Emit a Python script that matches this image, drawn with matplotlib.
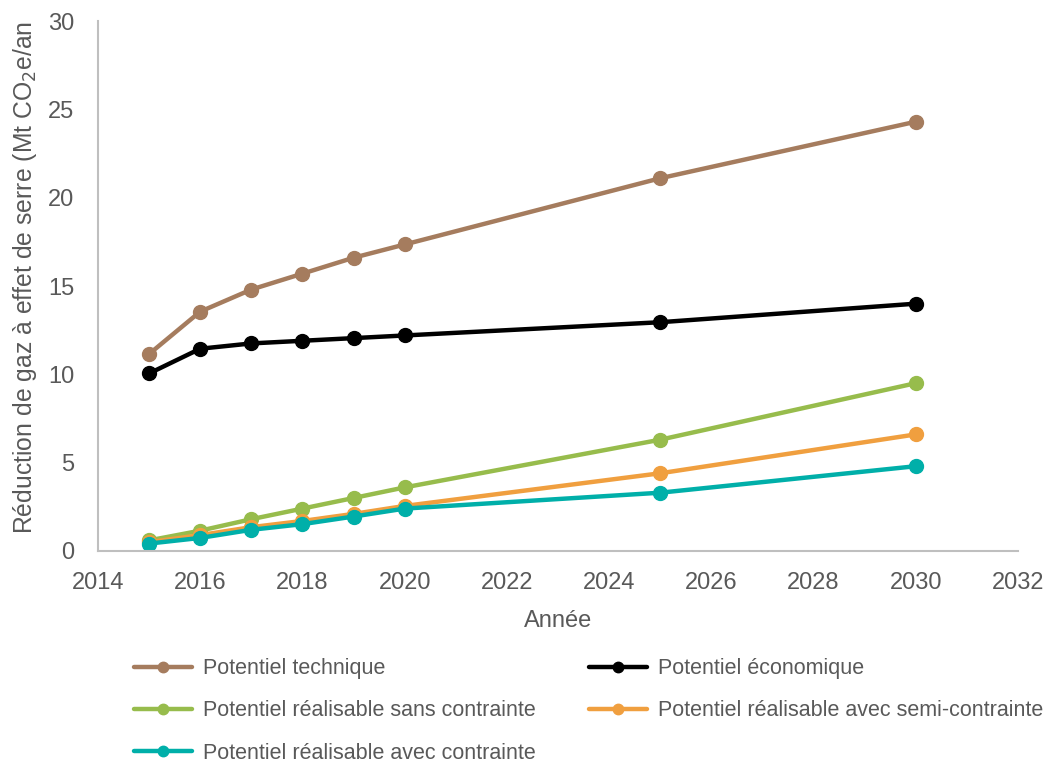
import matplotlib
matplotlib.use("Agg")
import matplotlib.pyplot as plt

plt.rcParams['font.family'] = ['Liberation Sans', 'DejaVu Sans']

years = [2015, 2016, 2017, 2018, 2019, 2020, 2025, 2030]
technique = [11.15, 13.55, 14.8, 15.7, 16.6, 17.35, 21.1, 24.3]
economique = [10.05, 11.45, 11.75, 11.9, 12.05, 12.2, 12.95, 14.0]
sans_contrainte = [0.6, 1.15, 1.8, 2.4, 3.0, 3.6, 6.3, 9.5]
semi_contrainte = [0.5, 0.9, 1.35, 1.7, 2.1, 2.55, 4.4, 6.6]
avec_contrainte = [0.42, 0.74, 1.2, 1.52, 1.95, 2.4, 3.3, 4.8]

labels = ["Potentiel technique", "Potentiel économique",
          "Potentiel réalisable sans contrainte",
          "Potentiel réalisable avec semi-contrainte",
          "Potentiel réalisable avec contrainte"]
colors = ["#A57C5E", "#000000", "#97BC4C", "#F09F3F", "#00AFA9"]
series = [technique, economique, sans_contrainte, semi_contrainte, avec_contrainte]

xticks = list(range(2014, 2033, 2))
yticks = [0, 5, 10, 15, 20, 25, 30]

fig = plt.figure(figsize=(10.49, 7.64), dpi=100)
ax = fig.add_axes([0.0934, 0.2788, 0.8771, 0.6937])

handles = []
for vals, col, lab in zip(series, colors, labels):
    h, = ax.plot(years, vals, color=col, lw=3.2, marker='o', ms=10,
                 label=lab, solid_joinstyle='round', solid_capstyle='round')
    handles.append(h)

ax.set_xlim(2014, 2032)
ax.set_ylim(0, 30)
ax.set_xticks(xticks)
ax.set_yticks(yticks)
ax.tick_params(length=0, labelsize=17, labelcolor='#595959')
ax.tick_params(axis='x', pad=15)
ax.tick_params(axis='y', pad=17)
for s in ['top', 'right']:
    ax.spines[s].set_visible(False)
for s in ['left', 'bottom']:
    ax.spines[s].set_color('#BFBFBF')
    ax.spines[s].set_linewidth(1.5)

ax.set_xlabel("Année", fontsize=17, color='#595959')
ax.xaxis.set_label_coords(0.5, -0.112)
ax.set_ylabel("Réduction de gaz à effet de serre (Mt CO$_2$e/an", fontsize=17.8,
              color='#595959')
ax.yaxis.set_label_coords(-0.064, 0.516)

# legend order: row-major with 2 columns
order = [0, 2, 4, 1, 3]
leg = fig.legend(handles=[handles[i] for i in order], loc='upper left',
                 bbox_to_anchor=(0.109, 0.164),
                 ncol=2, frameon=False, fontsize=15.5, handlelength=2.7,
                 labelspacing=0.99, columnspacing=2.5, handletextpad=0.5,
                 labelcolor='#595959', markerscale=0.75)

fig.savefig("out.png", dpi=100)
